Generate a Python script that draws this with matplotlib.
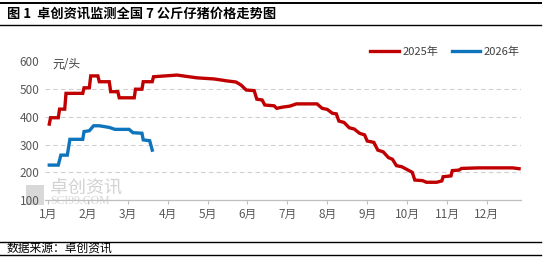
import calendar
import matplotlib
matplotlib.use("Agg")
import matplotlib.pyplot as plt
from matplotlib.lines import Line2D
from matplotlib.patches import Rectangle

plt.rcParams['font.family'] = ['Noto Sans CJK SC', 'DejaVu Sans']

# ---------------- data ----------------
title = "图 1  卓创资讯监测全国 7 公斤仔猪价格走势图"
source = "数据来源：卓创资讯"
unit = "元/头"
month_labels = ["1月", "2月", "3月", "4月", "5月", "6月", "7月", "8月", "9月", "10月", "11月", "12月"]
series_names = ["2025年", "2026年"]

dates_2025 = ["01-02", "01-03", "01-09", "01-10", "01-14", "01-15", "01-28", "01-29", "02-02", "02-03",
              "02-08", "02-09", "02-16", "02-17", "02-22", "02-23", "03-06", "03-07", "03-12", "03-13",
              "03-20", "03-21", "04-08", "04-23", "05-06", "05-16", "05-23", "05-27", "05-31", "06-06",
              "06-08", "06-12", "06-14", "06-21", "06-23", "06-27", "07-03", "07-08", "07-24", "07-28",
              "08-01", "08-05", "08-08", "08-10", "08-14", "08-18", "08-22", "08-26", "08-30", "09-01",
              "09-06", "09-09", "09-13", "09-17", "09-20", "09-23", "09-27", "10-05", "10-07", "10-13",
              "10-16", "10-24", "10-28", "10-29", "11-04", "11-05", "11-10", "11-12", "11-25", "12-21",
              "12-26"]
values_2025 = [374, 397, 397, 428, 428, 485, 485, 505, 505, 548,
               548, 527, 527, 491, 491, 469, 469, 500, 500, 527,
               527, 545, 551, 541, 537, 530, 526, 515, 497, 495,
               464, 461, 443, 440, 431, 435, 439, 447, 447, 431,
               427, 413, 411, 385, 380, 361, 356, 341, 335, 313,
               308, 280, 274, 253, 247, 224, 220, 200, 172, 170,
               164, 164, 169, 184, 187, 206, 208, 214, 216, 216,
               213]

dates_2026 = ["01-02", "01-09", "01-11", "01-16", "01-18", "01-28", "01-29", "02-02", "02-05", "02-09",
              "02-16", "02-20", "03-02", "03-05", "03-12", "03-13", "03-18", "03-20"]
values_2026 = [226, 226, 262, 262, 319, 319, 347, 350, 368, 368,
               362, 355, 355, 343, 341, 317, 314, 280]

y_ticks = [100, 200, 300, 400, 500, 600]


def month_pos(d):
    m, day = (int(p) for p in d.split("-"))
    ndays = calendar.monthrange(2025, m)[1]
    return (m - 1) + (day - 1) / ndays


# ---------------- figure ----------------
W, H = 543, 263
fig = plt.figure(figsize=(W / 100, H / 100), dpi=100)
fig.patch.set_facecolor("white")

# watermark (behind the plot)
fig.add_artist(Rectangle((26 / W, 1 - 205 / H), 18 / W, 20 / H, transform=fig.transFigure,
                         facecolor="#D8D8D8", edgecolor="none", zorder=-5))
fig.text(50 / W, 1 - 188 / H, "卓创资讯", fontsize=13, color="#D2D2D2", va="center", ha="left",
         zorder=-5)
fig.text(50 / W, 1 - 201.5 / H, "SCI99.COM", fontsize=8.5, color="#D6D6D6", va="center", ha="left",
         family=["Liberation Serif", "DejaVu Serif"], zorder=-5)

ax = fig.add_axes([45 / W, 1 - 200 / H, (521 - 45) / W, (200 - 61.5) / H])
ax.set_facecolor("none")
ax.set_zorder(1)

colors = ["#C00000", "#0E75BC"]
ax.plot([month_pos(d) for d in dates_2025], values_2025, color=colors[0], lw=2.4,
        solid_joinstyle="miter", zorder=3)
ax.plot([month_pos(d) for d in dates_2026], values_2026, color=colors[1], lw=2.4,
        solid_joinstyle="miter", zorder=3)

ax.set_xlim(-0.075, 11.855)
ax.set_ylim(100, 600)
ax.set_yticks(y_ticks)
ax.set_xticks(range(12))
ax.set_xticklabels(month_labels)
ax.tick_params(axis="x", length=3, width=0.8, color="#BFBFBF", labelsize=8.5,
               labelcolor="#595959", pad=3)
ax.tick_params(axis="y", length=0, labelsize=8.5, labelcolor="#595959", pad=4)
for s in ["top", "right", "left"]:
    ax.spines[s].set_visible(False)
ax.spines["bottom"].set_color("#BFBFBF")
ax.spines["bottom"].set_linewidth(0.9)
ax.yaxis.grid(True, color="#D0D0D0", linestyle=(0, (4, 3)), linewidth=0.8)
ax.set_axisbelow(True)

ax.text(0.015, 0.975, unit, transform=ax.transAxes, fontsize=8.5, color="#404040",
        va="center", ha="left")

# legend
handles = [Line2D([], [], color=c, lw=2.4) for c in colors]
leg = fig.legend(handles, series_names, loc="center", bbox_to_anchor=(445 / W, 1 - 52 / H),
                 ncol=2, frameon=False, fontsize=8, handlelength=2.6, handletextpad=0.3,
                 columnspacing=1.2, borderpad=0)
for t in leg.get_texts():
    t.set_color("#404040")

# title and source with rules
fig.add_artist(Line2D([0, 0.997], [1 - 3 / H, 1 - 3 / H], transform=fig.transFigure, color="black", lw=1.4))
fig.add_artist(Line2D([0, 0.997], [1 - 24.5 / H, 1 - 24.5 / H], transform=fig.transFigure, color="black", lw=1.0))
fig.text(7 / W, 1 - 14 / H, title, fontsize=9.5, fontweight="bold", va="center", ha="left", color="black")

fig.add_artist(Line2D([0, 0.997], [1 - 242.3 / H, 1 - 242.3 / H], transform=fig.transFigure, color="black", lw=1.0))
fig.add_artist(Line2D([0, 0.997], [1 - 254.5 / H, 1 - 254.5 / H], transform=fig.transFigure, color="black", lw=1.0))
fig.text(7 / W, 1 - 248 / H, source, fontsize=8.5, va="center", ha="left", color="black")

fig.savefig("out.png", dpi=100)
